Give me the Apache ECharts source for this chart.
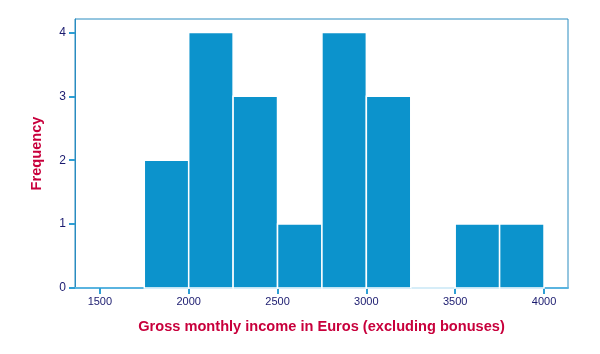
<!DOCTYPE html>
<html>
<head>
<meta charset="utf-8">
<script src="https://cdn.jsdelivr.net/npm/echarts@6/dist/echarts.min.js"></script>
<style>
  html, body { margin: 0; padding: 0; background: #fff; }
  #chart { width: 600px; height: 354px; }
</style>
</head>
<body>
<div id="chart"></div>
<script>
// histogram bins (width 250) and counts
var binStart = [1750, 2000, 2250, 2500, 2750, 3000, 3250, 3500, 3750];
var binEnd   = [2000, 2250, 2500, 2750, 3000, 3250, 3500, 3750, 4000];
var counts   = [2, 4, 3, 1, 4, 3, 0, 1, 1];
var xTicks = [1500, 2000, 2500, 3000, 3500, 4000];
var yTicks = [0, 1, 2, 3, 4];

var barData = binStart.map(function (s, i) {
  return [s, binEnd[i], counts[i]];
});

var chart = echarts.init(document.getElementById("chart"));

var option = {
  animation: false,
  grid: { left: 75, right: 32, top: 19, bottom: 66, show: true, borderColor: "#2a8cc0", borderWidth: 1 },
  xAxis: {
    type: "value",
    min: 1360,
    max: 4135,
    name: "Gross monthly income in Euros (excluding bonuses)",
    nameLocation: "middle",
    nameGap: 31,
    nameTextStyle: { color: "#c8003c", fontWeight: "bold", fontSize: 14.6, fontFamily: "Liberation Sans" },
    axisLine: { onZero: false, lineStyle: { color: "#5ab4e0", width: 2 } },
    axisTick: {
      show: true, inside: false, length: 6, lineStyle: { color: "#2f9fd4", width: 2 },
      customValues: xTicks
    },
    axisLabel: {
      color: "#1a1a6e", fontSize: 11, fontFamily: "Liberation Sans", margin: 8,
      customValues: xTicks,
      formatter: function (v) { return String(v); }
    },
    splitLine: { show: false }
  },
  yAxis: {
    type: "value",
    min: 0,
    max: 4.21,
    name: "Frequency",
    nameLocation: "middle",
    nameGap: 31,
    nameTextStyle: { color: "#c8003c", fontWeight: "bold", fontSize: 14.6, fontFamily: "Liberation Sans" },
    axisLine: { show: true, lineStyle: { color: "#2a8cc0", width: 1 } },
    axisTick: {
      show: true, inside: false, length: 6, lineStyle: { color: "#2f9fd4", width: 2 },
      customValues: yTicks
    },
    axisLabel: {
      color: "#1a1a6e", fontSize: 12, fontFamily: "Liberation Sans", margin: 9,
      customValues: yTicks
    },
    splitLine: { show: false }
  },
  series: [{
    type: "custom",
    data: barData,
    encode: { x: [0, 1], y: 2 },
    renderItem: function (params, api) {
      var p0 = api.coord([api.value(0), api.value(2)]);
      var p1 = api.coord([api.value(1), 0]);
      return {
        type: "rect",
        shape: { x: p0[0], y: p0[1], width: p1[0] - p0[0], height: p1[1] - p0[1] },
        style: { fill: "#0c93cc", stroke: "#ffffff", lineWidth: 1.5 }
      };
    }
  }]
};

chart.setOption(option);
</script>
</body>
</html>
